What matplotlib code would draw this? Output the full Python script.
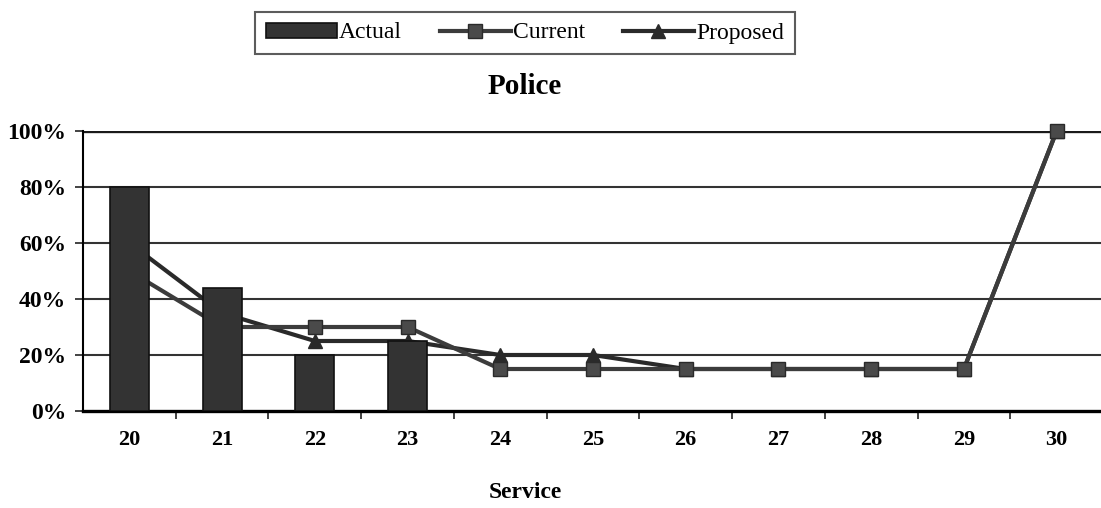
import numpy as np
import matplotlib
matplotlib.use('Agg')
import matplotlib.pyplot as plt
from matplotlib.ticker import FixedLocator, PercentFormatter

plt.rcParams['font.family'] = ['Liberation Serif', 'DejaVu Serif']

# service years and percentages
service = [20, 21, 22, 23, 24, 25, 26, 27, 28, 29, 30]
actual = [80, 44, 20, 25]
current = [50, 30, 30, 30, 15, 15, 15, 15, 15, 15, 100]
proposed = [60, 35, 25, 25, 20, 20, 15, 15, 15, 15, 100]

fig = plt.figure(figsize=(11.01, 5.08), dpi=100)
ax = fig.add_axes([83 / 1101, 97 / 508, 1020 / 1101, 280 / 508])

x = np.arange(len(service))

# grid lines behind everything
for g in [20, 40, 60, 80]:
    ax.axhline(g, color='#333333', lw=1.5, zorder=0)
ax.axhline(100, color='#1a1a1a', lw=2.4, zorder=0)

# lines go under the bars
ax.plot(x, proposed, color='#2a2a2a', lw=3, marker='^', ms=10,
        mfc='#2a2a2a', mec='#2a2a2a', label='Proposed', zorder=2, clip_on=False)
ax.plot(x, current, color='#3c3c3c', lw=3, marker='s', ms=10,
        mfc='#4a4a4a', mec='#2a2a2a', label='Current', zorder=3, clip_on=False)
ax.bar(x[:len(actual)], actual, width=0.42, color='#333333',
       edgecolor='#111111', lw=1.2, label='Actual', zorder=4)

ax.set_xlim(-0.5, len(service) - 0.5)
ax.set_ylim(0, 100)
ax.set_xticks(x)
ax.set_xticklabels([str(s) for s in service], fontsize=16, fontweight='bold')
ax.xaxis.set_minor_locator(FixedLocator(x[:-1] + 0.5))
ax.tick_params(axis='x', which='major', length=0, pad=14)
ax.tick_params(axis='x', which='minor', length=6, width=1.2, direction='out', color='#222222')

ax.set_yticks([0, 20, 40, 60, 80, 100])
ax.yaxis.set_major_formatter(PercentFormatter(decimals=0))
ax.tick_params(axis='y', length=6, width=1.2, color='#222222', pad=6)
for lab in ax.get_yticklabels():
    lab.set_fontsize(17)
    lab.set_fontweight('bold')

for side in ['top', 'right']:
    ax.spines[side].set_visible(False)
ax.spines['left'].set_linewidth(1.5)
ax.spines['bottom'].set_linewidth(2.4)

fig.text(525 / 1101, 1 - 87 / 508, 'Police', ha='center', va='center',
         fontsize=21, fontweight='bold')
fig.text(525 / 1101, 1 - 492 / 508, 'Service', ha='center', va='center',
         fontsize=17, fontweight='bold')

handles, labels = ax.get_legend_handles_labels()
order = [labels.index(n) for n in ['Actual', 'Current', 'Proposed']]
leg = fig.legend([handles[i] for i in order], [labels[i] for i in order],
                 loc='center', bbox_to_anchor=(525 / 1101, 1 - 33 / 508),
                 ncol=3, fontsize=17, frameon=True, fancybox=False,
                 edgecolor='#333333', handlelength=3.0, handleheight=0.6,
                 handletextpad=0.1, columnspacing=1.6, borderpad=0.45,
                 borderaxespad=0)
leg.get_frame().set_linewidth(1.5)

fig.savefig('out.png', dpi=100)
